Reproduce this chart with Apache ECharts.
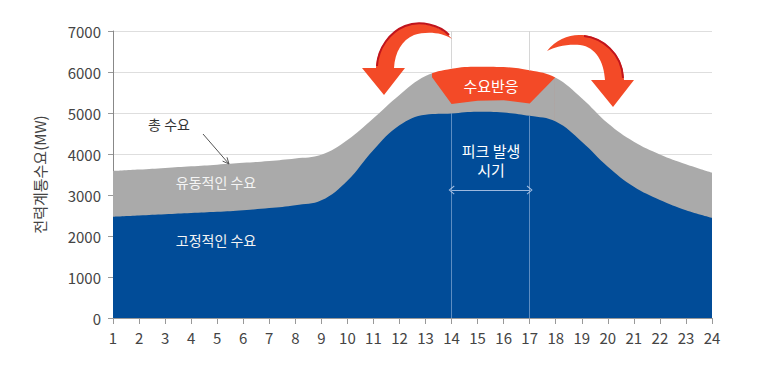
<!DOCTYPE html>
<html>
<head>
<meta charset="utf-8">
<script src="https://cdn.jsdelivr.net/npm/echarts@6/dist/echarts.min.js"></script>
<style>
  html, body { margin: 0; padding: 0; background: #fff; }
  #chart { width: 758px; height: 369px; }
</style>
</head>
<body>
<div id="chart"></div>
<script>
// hours of the day (x axis)
const hours = [1, 2, 3, 4, 5, 6, 7, 8, 9, 10, 11, 12, 13, 14, 15, 16, 17, 18, 19, 20, 21, 22, 23, 24];
// total demand before demand response (MW)
const totalDemand = [3585, 3620, 3660, 3700, 3740, 3785, 3830, 3890, 3980, 4340, 4870, 5440,
    5900, 6080, 6130, 6120, 6040, 5860, 5360, 4750, 4300, 3990, 3750, 3545];
// fixed demand (MW)
const fixedDemand = [2470, 2500, 2530, 2560, 2590, 2630, 2680, 2750, 2870, 3350, 4100, 4700,
    4960, 4990, 5030, 5010, 4930, 4790, 4300, 3690, 3200, 2880, 2630, 2445];
// total demand after demand response, around the peak
const responseHours = [13.18, 14, 15, 16, 17, 17.97];
const shiftedTotal = [5935, 5220, 5300, 5310, 5230, 5860];
// demand response band starts/ends (hours)
const responseFrom = 13.26, responseTo = 17.97;
// peak period
const peakStart = 14, peakEnd = 17;
const yTicks = {min: 0, max: 7000, interval: 1000};

const BLUE = '#014c98';
const GRAY = '#aaaaaa';
const RED = '#f34a27';
const FONT = '"Noto Sans CJK KR", "Noto Sans", sans-serif';

const pair = (xs, ys) => xs.map((x, i) => [x, ys[i]]);

// curved red arrows (decoration, pixel paths)
const arrowPaths = [
    {d: 'M452,39 C444,27 420,19 405,26 C390,32 377,48 376,68 L362,68 L384,95 L405,68 L394,68 C395,52 402,40 414,35 C426,31 442,32 452,39 Z', fill: RED},
    {d: 'M449,35 C440,25 420,20 405,26 C390,32 378,48 377,66', stroke: '#c0141c'},
    {d: 'M547,51 C556,39 570,34 582,35 C600,36 624,52 624,80 L634,80 L613,107 L591,80 L605,80 C604,62 596,47 580,45 C566,44 555,47 547,51 Z', fill: RED},
    {d: 'M584,36 C602,38 622,53 623,78', stroke: '#c0141c'}
];

const chart = echarts.init(document.getElementById('chart'), null, {renderer: 'svg'});

function label (text, x, y, size, color){
    return {
        type: 'text', x: x, y: y, z: 100,
        style: {text: text, fill: color, font: size + 'px ' + FONT, align: 'center', verticalAlign: 'middle'}
    };
}

chart.setOption({
    animation: false,
    textStyle: {fontFamily: FONT},
    grid: {left: 113, right: 46, top: 31, bottom: 51},
    visualMap: {
        show: false,
        type: 'piecewise',
        seriesIndex: 0,
        dimension: 0,
        pieces: [
            {lt: responseFrom, color: GRAY},
            {gte: responseFrom, lt: responseTo, color: RED},
            {gte: responseTo, color: GRAY}
        ]
    },
    xAxis: {
        type: 'value',
        min: hours[0],
        max: hours[hours.length - 1],
        interval: 1,
        axisLine: {lineStyle: {color: '#999'}},
        axisTick: {length: 6, lineStyle: {color: '#999'}},
        axisLabel: {fontSize: 15, color: '#444', margin: 12},
        splitLine: {show: false}
    },
    yAxis: {
        type: 'value',
        min: yTicks.min,
        max: yTicks.max,
        interval: yTicks.interval,
        name: '전력계통수요(MW)',
        nameLocation: 'middle',
        nameRotate: 90,
        nameGap: 66,
        nameTextStyle: {fontSize: 15, color: '#444'},
        axisLine: {show: true, lineStyle: {color: '#888'}},
        axisTick: {show: true, length: 5, lineStyle: {color: '#999'}},
        axisLabel: {fontSize: 15, color: '#444', margin: 12, formatter: v => String(v)},
        splitLine: {lineStyle: {color: '#dedede'}}
    },
    series: [
        {
            name: '총 수요',
            type: 'line',
            smooth: 0.4,
            showSymbol: false,
            silent: true,
            lineStyle: {width: 0},
            areaStyle: {opacity: 1},
            data: pair(hours, totalDemand)
        },
        {
            name: '유동적인 수요',
            type: 'line',
            showSymbol: false,
            silent: true,
            itemStyle: {color: GRAY},
            lineStyle: {width: 0},
            areaStyle: {color: GRAY, opacity: 1},
            data: pair(responseHours, shiftedTotal)
        },
        {
            name: '고정적인 수요',
            type: 'line',
            smooth: 0.4,
            showSymbol: false,
            silent: true,
            itemStyle: {color: BLUE},
            lineStyle: {width: 0},
            areaStyle: {color: BLUE, opacity: 1},
            data: pair(hours, fixedDemand),
            markLine: {
                silent: true,
                symbol: 'none',
                label: {show: false},
                data: [
                    [{coord: [peakStart, 0], lineStyle: {color: 'rgba(170,195,230,0.55)', width: 1, type: 'solid'}},
                     {coord: [peakStart, fixedDemand[peakStart - 1]]}],
                    [{coord: [peakEnd, 0], lineStyle: {color: 'rgba(170,195,230,0.55)', width: 1, type: 'solid'}},
                     {coord: [peakEnd, fixedDemand[peakEnd - 1]]}],
                    [{coord: [peakStart, totalDemand[peakStart - 1]], lineStyle: {color: '#d6d6d6', width: 1, type: 'solid'}},
                     {coord: [peakStart, yTicks.max]}],
                    [{coord: [peakEnd, totalDemand[peakEnd - 1]], lineStyle: {color: '#d6d6d6', width: 1, type: 'solid'}},
                     {coord: [peakEnd, yTicks.max]}],
                    [{coord: [peakStart, 3120], symbol: 'path://M5,0 L10,8 L9,9 L5,2.4 L1,9 L0,8 Z', symbolSize: [9, 6],
                        lineStyle: {color: 'rgba(185,205,235,0.85)', width: 1, type: 'solid'}},
                     {coord: [peakEnd, 3120], symbol: 'path://M5,0 L10,8 L9,9 L5,2.4 L1,9 L0,8 Z', symbolSize: [9, 6]}]
                ]
            }
        },
        {
            type: 'custom',
            coordinateSystem: 'none',
            silent: true,
            z: 50,
            data: [0],
            renderItem: function (){
                return {
                    type: 'group',
                    children: arrowPaths.map(p => ({
                        type: 'path',
                        shape: {pathData: p.d},
                        style: p.fill ? {fill: p.fill} : {fill: 'none', stroke: p.stroke, lineWidth: 2}
                    }))
                };
            }
        }
    ],
    graphic: [
        // pointer to the total demand curve
        {
            type: 'polyline', z: 100,
            shape: {points: [[203, 134], [229, 164]]},
            style: {stroke: '#555', lineWidth: 1, fill: null}
        },
        {
            type: 'polyline', z: 100,
            shape: {points: [[227, 157.3], [229, 164], [222.6, 161.1]]},
            style: {stroke: '#555', lineWidth: 1, fill: null}
        },
        label('총 수요', 169, 124, 14, '#333'),
        label('유동적인 수요', 216, 182, 14, '#f4f4f4'),
        label('고정적인 수요', 216, 240, 14, '#f4f4f4'),
        label('수요반응', 491, 85, 15, '#ffffff'),
        label('피크 발생', 491, 150, 15, '#ffffff'),
        label('시기', 491, 169, 15, '#ffffff')
    ]
});
</script>
</body>
</html>
